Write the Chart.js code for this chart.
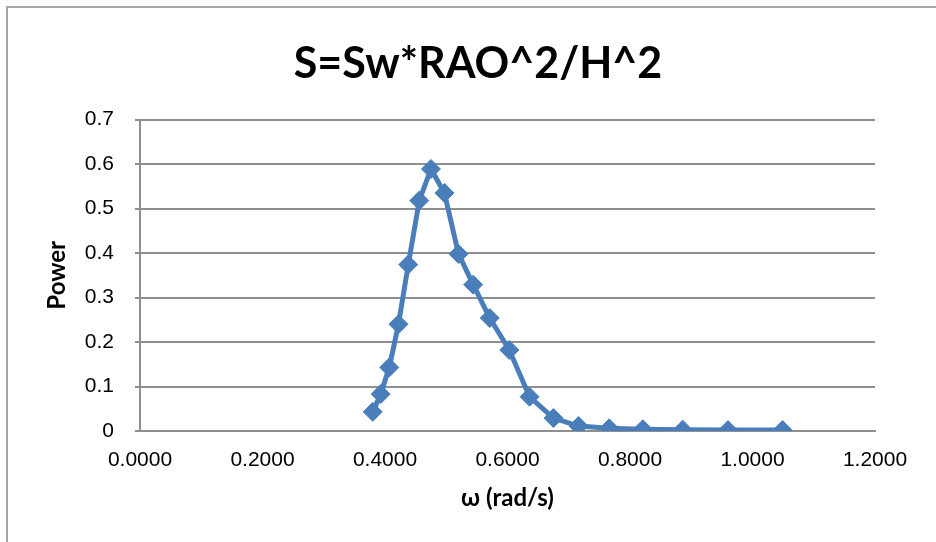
<!DOCTYPE html>
<html>
<head>
<meta charset="utf-8">
<script src="https://cdn.jsdelivr.net/npm/chart.js@4.4.0/dist/chart.umd.min.js"></script>
<style>
  html, body { margin: 0; padding: 0; background: #fff; }
  #wrap { position: relative; width: 936px; height: 542px; overflow: hidden; }
  #frame { position: absolute; left: 6px; top: 6px; width: 940px; height: 540px;
           border-left: 2px solid #a6a6a6; border-top: 2px solid #a6a6a6; }
  canvas { position: absolute; left: 0; top: 0; }
</style>
</head>
<body>
<div id="wrap">
  <div id="frame"></div>
  <canvas id="chart" width="936" height="542"></canvas>
</div>
<script>
// frequency (rad/s) and spectrum values
const omega = [0.380, 0.393, 0.407, 0.422, 0.438, 0.456, 0.475, 0.497, 0.520, 0.544,
               0.571, 0.603, 0.636, 0.675, 0.716, 0.766, 0.821, 0.886, 0.960, 1.049];
const power = [0.043, 0.083, 0.143, 0.240, 0.374, 0.518, 0.589, 0.535, 0.398, 0.329,
               0.254, 0.182, 0.077, 0.029, 0.011, 0.006, 0.004, 0.003, 0.002, 0.002];

const titleText = 'S=Sw*RAO^2/H^2';
const xTitle = 'ω (rad/s)';
const yTitle = 'Power';

const blue = '#4a7ebb';
const gridGray = '#8f8f8f';
const boldFont = "Lato, 'Open Sans', sans-serif";
const tickFont = "'Liberation Sans', Arial, sans-serif";

const points = omega.map((x, i) => ({x: x, y: power[i]}));

new Chart(document.getElementById('chart'), {
    type: 'scatter',
    data: {
        datasets: [{
            data: points,
            showLine: true,
            borderColor: blue,
            backgroundColor: blue,
            borderWidth: 5,
            pointStyle: 'rectRot',
            pointRadius: 9.5,
            pointBorderWidth: 1,
            pointBorderColor: blue,
            pointBackgroundColor: blue
        }]
    },
    options: {
        responsive: false,
        animation: false,
        // left padding shifts the title centre to the right like the original
        layout: {padding: {left: 20, top: 0, right: 0, bottom: 0}},
        plugins: {
            legend: {display: false},
            tooltip: {enabled: false},
            title: {
                display: true,
                text: titleText,
                color: '#000',
                font: {family: boldFont, size: 43, weight: 'bold', lineHeight: 1.2},
                padding: {top: 38, bottom: 30}
            }
        },
        scales: {
            x: {
                type: 'linear',
                min: 0,
                max: 1.2,
                afterFit: s => { s.height = 111; },
                grid: {display: false, drawTicks: false},
                border: {display: true, color: gridGray, width: 2},
                ticks: {
                    stepSize: 0.2,
                    padding: 17,
                    color: '#000',
                    font: {family: tickFont, size: 21},
                    callback: v => v.toFixed(4)
                },
                title: {
                    display: true,
                    text: xTitle,
                    color: '#000',
                    font: {family: boldFont, size: 24, weight: 'bold'},
                    padding: {top: 0, bottom: 29}
                }
            },
            y: {
                min: 0,
                max: 0.7,
                afterFit: s => { s.width = 120; },
                grid: {color: gridGray, lineWidth: 2, drawTicks: true, tickLength: 5},
                border: {display: true, color: gridGray, width: 2},
                ticks: {
                    stepSize: 0.1,
                    padding: 21,
                    color: '#000',
                    font: {family: tickFont, size: 21},
                    callback: v => v === 0 ? '0' : v.toFixed(1)
                },
                title: {
                    display: true,
                    text: yTitle,
                    color: '#000',
                    font: {family: boldFont, size: 24, weight: 'bold'},
                    padding: {top: 23, bottom: 0}
                }
            },
            // empty right-hand spacer keeps the plot ending at x = 875
            yRight: {
                position: 'right',
                min: 0,
                max: 0.7,
                afterFit: s => { s.width = 61; },
                grid: {display: false, drawTicks: false},
                border: {display: false},
                ticks: {display: false}
            }
        }
    }
});
</script>
</body>
</html>
